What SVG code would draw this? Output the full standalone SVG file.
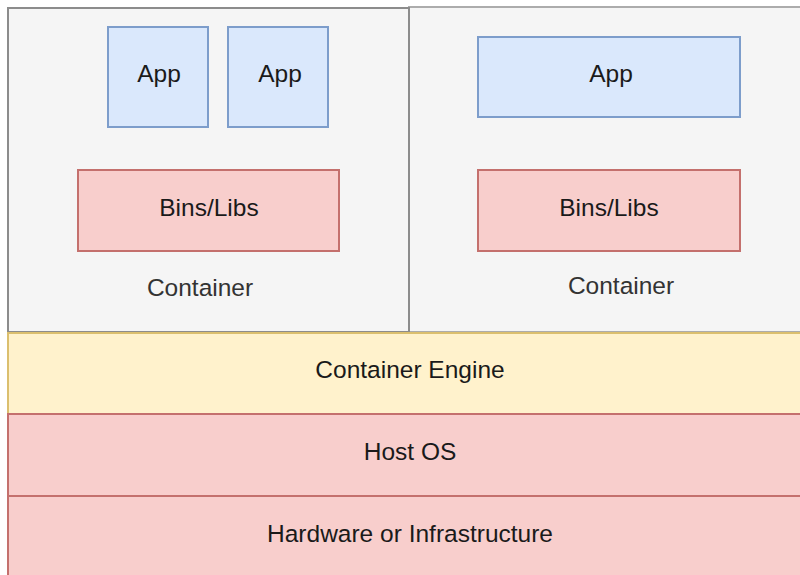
<svg xmlns="http://www.w3.org/2000/svg" width="800" height="575" viewBox="0 0 800 575">
<style>
.cont{fill:#f5f5f5;stroke:#8c8c8c;stroke-width:2}
.cont2{fill:#f5f5f5;stroke:#acacac;stroke-width:2}
.app{fill:#dae8fc;stroke:#7d9dcb;stroke-width:2}
.red{fill:#f8cecc;stroke:#c4706d;stroke-width:2}
.yel{fill:#fff2cc;stroke:#dbbf6e;stroke-width:2}
text{font-family:"Liberation Sans",Arial,sans-serif;font-size:24.5px;fill:#1a1a1a;text-anchor:middle}
.lbl{fill:#333}
</style>
<rect width="800" height="575" fill="#ffffff"/>
<g id="container-right">
<rect class="cont2" x="409" y="7" width="402" height="325"/>
<text class="lbl" x="621" y="294">Container</text>
</g>
<g id="container-left">
<rect class="cont" x="8" y="8" width="401" height="324"/>
<text class="lbl" x="200" y="296">Container</text>
</g>
<g id="app1"><rect class="app" x="108" y="27" width="100" height="100"/><text x="159" y="82">App</text></g>
<g id="app2"><rect class="app" x="228" y="27" width="100" height="100"/><text x="280" y="82">App</text></g>
<g id="app3"><rect class="app" x="478" y="37" width="262" height="80"/><text x="611" y="82">App</text></g>
<g id="bins1"><rect class="red" x="78" y="170" width="261" height="81"/><text x="209" y="216">Bins/Libs</text></g>
<g id="bins2"><rect class="red" x="478" y="170" width="262" height="81"/><text x="609" y="216">Bins/Libs</text></g>
<g id="engine"><rect class="yel" x="8" y="333" width="804" height="81"/><text x="410" y="378">Container Engine</text></g>
<g id="hostos"><rect class="red" x="8" y="414" width="804" height="82"/><text x="410" y="460">Host OS</text></g>
<g id="hardware"><rect class="red" x="8" y="496" width="804" height="84"/><text x="410" y="542">Hardware or Infrastructure</text></g>
<g id="connectors"></g>
</svg>
